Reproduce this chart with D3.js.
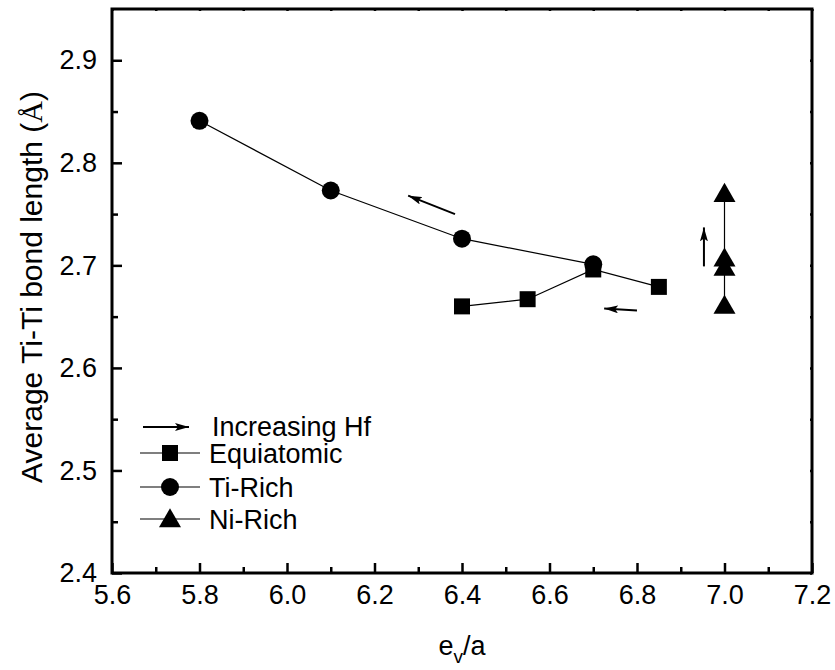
<!DOCTYPE html>
<html>
<head>
<meta charset="utf-8">
<script src="https://cdn.jsdelivr.net/npm/d3@7"></script>
<style>
  html, body { margin: 0; padding: 0; background: #fff; }
  svg { display: block; }
  text { font-family: "Liberation Sans", Arial, sans-serif; fill: #000; }
</style>
</head>
<body>
<svg id="chart" width="835" height="670"></svg>
<script>
// Series data: valence electron concentration (e_v/a) vs average Ti-Ti bond length (Å)
const equiatomicX = [6.4, 6.55, 6.7, 6.85];
const equiatomicY = [2.660, 2.667, 2.696, 2.679];
const tiRichX = [5.8, 6.1, 6.4, 6.7];
const tiRichY = [2.841, 2.773, 2.726, 2.701];
const niRichX = [7.0, 7.0, 7.0, 7.0];
const niRichY = [2.770, 2.707, 2.698, 2.661];

// Direction-of-increasing-Hf arrows, [x1, y1, x2, y2] in data units
const hfArrows = [
  [6.384, 2.750, 6.277, 2.768],
  [6.800, 2.656, 6.725, 2.658],
  [6.953, 2.699, 6.953, 2.737]
];

const xTicks = [5.6, 5.8, 6.0, 6.2, 6.4, 6.6, 6.8, 7.0, 7.2];
const xMinor = [5.7, 5.9, 6.1, 6.3, 6.5, 6.7, 6.9, 7.1];
const yTicks = [2.4, 2.5, 2.6, 2.7, 2.8, 2.9];
const yMinor = [2.45, 2.55, 2.65, 2.75, 2.85];

const legendLabels = ["Equiatomic", "Ti-Rich", "Ni-Rich"];

const svg = d3.select("#chart");
const plotL = 112, plotR = 812, plotT = 9, plotB = 573;
const fs = 27;

const x = d3.scaleLinear().domain([5.6, 7.2]).range([plotL, plotR]);
const y = d3.scaleLinear().domain([2.4, 2.95]).range([plotB, plotT]);

const defs = svg.append("defs");
defs.append("marker")
  .attr("id", "head")
  .attr("viewBox", "0 0 14 8")
  .attr("refX", 14).attr("refY", 4)
  .attr("markerWidth", 14).attr("markerHeight", 8)
  .attr("markerUnits", "userSpaceOnUse")
  .attr("orient", "auto")
  .append("path").attr("d", "M0,0 L14,4 L0,8 L3,4 Z").attr("fill", "#000");

// Axes with inward ticks
const fmt = d3.format(".1f");
const gx = svg.append("g").attr("transform", `translate(0,${plotB})`)
  .call(d3.axisBottom(x).tickValues(xTicks).tickFormat(fmt).tickSizeInner(-10).tickSizeOuter(0).tickPadding(26));
const gxm = svg.append("g").attr("transform", `translate(0,${plotB})`)
  .call(d3.axisBottom(x).tickValues(xMinor).tickFormat("").tickSizeInner(-6).tickSizeOuter(0));
const gy = svg.append("g").attr("transform", `translate(${plotL},0)`)
  .call(d3.axisLeft(y).tickValues(yTicks).tickFormat(fmt).tickSizeInner(-10).tickSizeOuter(0).tickPadding(15));
const gym = svg.append("g").attr("transform", `translate(${plotL},0)`)
  .call(d3.axisLeft(y).tickValues(yMinor).tickFormat("").tickSizeInner(-6).tickSizeOuter(0));
const gt = svg.append("g").attr("transform", `translate(0,${plotT})`)
  .call(d3.axisTop(x).tickValues(xTicks.concat(xMinor)).tickFormat("").tickSizeInner(-2).tickSizeOuter(0));
const gr = svg.append("g").attr("transform", `translate(${plotR},0)`)
  .call(d3.axisRight(y).tickValues(yTicks.concat(yMinor)).tickFormat("").tickSizeInner(-2).tickSizeOuter(0));

[gx, gxm, gy, gym, gt, gr].forEach(g => {
  g.select(".domain").remove();
  g.selectAll(".tick line").attr("stroke", "#000").attr("stroke-width", 2.5);
  g.selectAll(".tick text").attr("font-size", fs).attr("font-family", "Liberation Sans, Arial, sans-serif");
});
gx.selectAll(".tick text").attr("dy", "0.2em");

// Frame
svg.append("rect")
  .attr("x", plotL).attr("y", plotT)
  .attr("width", plotR - plotL).attr("height", plotB - plotT)
  .attr("fill", "none").attr("stroke", "#000").attr("stroke-width", 3);

// Series
const line = d3.line().x(d => x(d[0])).y(d => y(d[1]));
const zip = (xs, ys) => xs.map((v, i) => [v, ys[i]]);
const eq = zip(equiatomicX, equiatomicY);
const ti = zip(tiRichX, tiRichY);
const ni = zip(niRichX, niRichY);

[eq, ti, ni].forEach(s => {
  svg.append("path").datum(s).attr("d", line)
    .attr("fill", "none").attr("stroke", "#000").attr("stroke-width", 1.2);
});

const sqSym = d3.symbol().type(d3.symbolSquare).size(256);
const ciSym = d3.symbol().type(d3.symbolCircle).size(Math.PI * 81);
const trSym = d3.symbol().type(d3.symbolTriangle).size(210);

svg.append("g").selectAll("path").data(eq).join("path")
  .attr("transform", d => `translate(${x(d[0])},${y(d[1])})`)
  .attr("d", sqSym).attr("fill", "#000");
svg.append("g").selectAll("path").data(ti).join("path")
  .attr("transform", d => `translate(${x(d[0])},${y(d[1])})`)
  .attr("d", ciSym).attr("fill", "#000");
svg.append("g").selectAll("path").data(ni).join("path")
  .attr("transform", d => `translate(${x(d[0])},${y(d[1]) + 2})`)
  .attr("d", trSym).attr("fill", "#000");

// Hf arrows
svg.append("g").selectAll("line").data(hfArrows).join("line")
  .attr("x1", d => x(d[0])).attr("y1", d => y(d[1]))
  .attr("x2", d => x(d[2])).attr("y2", d => y(d[3]))
  .attr("stroke", "#000").attr("stroke-width", 2)
  .attr("marker-end", "url(#head)");

// Legend
const lg = svg.append("g");
lg.append("line").attr("x1", 143).attr("y1", 427).attr("x2", 189).attr("y2", 427)
  .attr("stroke", "#000").attr("stroke-width", 2).attr("marker-end", "url(#head)");
lg.append("text").attr("x", 212).attr("y", 436).attr("font-size", fs).text("Increasing Hf");

const syms = [sqSym, ciSym, trSym];
const rowsY = [453, 487, 519];
legendLabels.forEach((lab, i) => {
  lg.append("line").attr("x1", 140).attr("x2", 200).attr("y1", rowsY[i]).attr("y2", rowsY[i])
    .attr("stroke", "#000").attr("stroke-width", 1.2);
  lg.append("path").attr("d", syms[i])
    .attr("transform", `translate(170,${rowsY[i] + (i === 2 ? 2 : 0)})`).attr("fill", "#000");
  lg.append("text").attr("x", 209).attr("y", rowsY[i] + 10).attr("font-size", fs).text(lab);
});

// Axis titles
const xt = svg.append("text").attr("x", 462).attr("y", 655).attr("text-anchor", "middle").attr("font-size", fs);
xt.append("tspan").text("e");
xt.append("tspan").attr("font-size", 19).attr("dy", 8).text("v");
xt.append("tspan").attr("dy", -8).text("/a");

const yt = svg.append("text")
  .attr("transform", `translate(42,${(plotT + plotB) / 2 - 4}) rotate(-90)`)
  .attr("text-anchor", "middle").attr("font-size", 30);
yt.append("tspan").text("Average Ti-Ti bond length (");
yt.append("tspan").attr("font-family", "Liberation Serif, serif").text("Å");
yt.append("tspan").text(")");
</script>
</body>
</html>
